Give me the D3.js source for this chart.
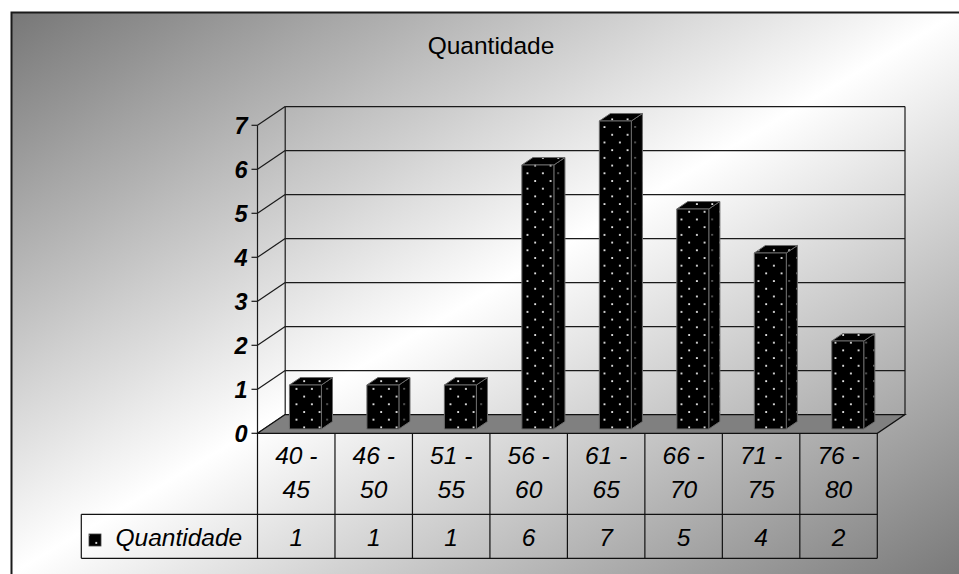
<!DOCTYPE html>
<html>
<head>
<meta charset="utf-8">
<script src="https://cdn.jsdelivr.net/npm/d3@7"></script>
<style>
  html, body { margin: 0; padding: 0; background: #fff; }
  svg { display: block; }
  text { font-family: "Liberation Sans", Arial, sans-serif; }
</style>
</head>
<body>
<svg id="chart" width="959" height="574"></svg>
<script>
// Age ranges and how many fall into each
const categories = ["40 - 45", "46 - 50", "51 - 55", "56 - 60", "61 - 65", "66 - 70", "71 - 75", "76 - 80"];
const values = [1, 1, 1, 6, 7, 5, 4, 2];
const yTicks = [0, 1, 2, 3, 4, 5, 6, 7];
const seriesName = "Quantidade";
const chartTitle = "Quantidade";

const svg = d3.select("#chart");
const defs = svg.append("defs");

// Diagonal dark-light-dark backdrop
const bg = defs.append("linearGradient").attr("id", "bgGrad")
  .attr("x1", 0).attr("y1", 0).attr("x2", 1).attr("y2", 1);
bg.append("stop").attr("offset", 0).attr("stop-color", "#777777");
bg.append("stop").attr("offset", 0.5).attr("stop-color", "#ffffff");
bg.append("stop").attr("offset", 1).attr("stop-color", "#7a7a7a");

// Dotted fill for the columns
function dotPattern(id, dotColor, size) {
  const p = defs.append("pattern").attr("id", id)
    .attr("patternUnits", "userSpaceOnUse")
    .attr("width", 15.4).attr("height", 15.4);
  p.append("rect").attr("width", 15.4).attr("height", 15.4).attr("fill", "#000");
  p.append("rect").attr("x", 3).attr("y", 3).attr("width", size).attr("height", size).attr("fill", dotColor);
  p.append("rect").attr("x", 10.7).attr("y", 10.7).attr("width", size).attr("height", size).attr("fill", dotColor);
}
dotPattern("dots", "#f2f2f2", 1.8);
dotPattern("dotsDim", "#8a8a8a", 1.5);

// Chart area
svg.append("rect").attr("x", 11).attr("y", 12).attr("width", 948).attr("height", 562)
  .attr("fill", "url(#bgGrad)");
svg.append("path").attr("d", "M11.5,574 V12.5 H959")
  .attr("fill", "none").attr("stroke", "#1a1a1a").attr("stroke-width", 2);

// Title
svg.append("text").attr("x", 491).attr("y", 54).attr("text-anchor", "middle")
  .attr("font-size", 24.5).attr("fill", "#000").text(chartTitle);

// Scales: front plane of the 3D box
const x0 = 257.5, x1 = 877.3;
const x = d3.scaleBand().domain(categories).range([x0, x1]).padding(0);
const y = d3.scaleLinear().domain([0, 7]).range([433.3, 125.3]);
const depth = { dx: 27.7, dy: -18.7 };
const bw = x.bandwidth();

// Back wall gridlines
const grid = svg.append("g").attr("stroke", "#1a1a1a").attr("stroke-width", 1.2).attr("fill", "none");
yTicks.forEach(v => {
  grid.append("line")
    .attr("x1", x0 + depth.dx).attr("x2", x1 + depth.dx)
    .attr("y1", y(v) + depth.dy).attr("y2", y(v) + depth.dy);
  // side wall lines
  grid.append("line")
    .attr("x1", x0).attr("y1", y(v))
    .attr("x2", x0 + depth.dx).attr("y2", y(v) + depth.dy);
});
// wall edges
grid.append("line").attr("x1", x0 + depth.dx).attr("x2", x0 + depth.dx)
  .attr("y1", y(7) + depth.dy).attr("y2", y(0) + depth.dy);
grid.append("line").attr("x1", x1 + depth.dx).attr("x2", x1 + depth.dx)
  .attr("y1", y(7) + depth.dy).attr("y2", y(0) + depth.dy);

// Floor
svg.append("path")
  .attr("d", `M${x0},${y(0)} L${x1},${y(0)} L${x1 + depth.dx},${y(0) + depth.dy} L${x0 + depth.dx},${y(0) + depth.dy} Z`)
  .attr("fill", "#808080").attr("stroke", "#111").attr("stroke-width", 1.2);

// Columns
const f0 = 0.23, fd = 0.4;
const barW = bw * 0.413;
const bars = svg.append("g").attr("stroke", "#6a6a6a").attr("stroke-width", 1).attr("stroke-linejoin", "round");
categories.forEach((c, i) => {
  const v = values[i];
  const fx = x(c) + bw * 0.33 + f0 * depth.dx;
  const ox = f0 * depth.dy;
  const yt = y(v) + ox, yb = y(0) + ox;
  const ddx = fd * depth.dx, ddy = fd * depth.dy;
  // side
  bars.append("path")
    .attr("d", `M${fx + barW},${yt} L${fx + barW + ddx},${yt + ddy} L${fx + barW + ddx},${yb + ddy} L${fx + barW},${yb} Z`)
    .attr("fill", "url(#dotsDim)");
  // top
  bars.append("path")
    .attr("d", `M${fx},${yt} L${fx + ddx},${yt + ddy} L${fx + barW + ddx},${yt + ddy} L${fx + barW},${yt} Z`)
    .attr("fill", "url(#dots)");
  // front
  bars.append("rect")
    .attr("x", fx).attr("y", yt).attr("width", barW).attr("height", yb - yt)
    .attr("fill", "url(#dots)");
});

// Value axis
const axisG = svg.append("g").attr("stroke", "#1a1a1a").attr("stroke-width", 1.2);
axisG.append("line").attr("x1", x0).attr("x2", x0).attr("y1", y(7)).attr("y2", y(0));
yTicks.forEach(v => {
  axisG.append("line").attr("x1", x0 - 6).attr("x2", x0).attr("y1", y(v)).attr("y2", y(v));
});
svg.append("g").selectAll("text").data(yTicks).join("text")
  .attr("x", x0 - 10).attr("y", d => y(d) + 8.5)
  .attr("text-anchor", "end")
  .attr("font-size", 23.5).attr("font-weight", "bold").attr("font-style", "italic")
  .attr("fill", "#000")
  .text(d => d);

// Data table
const rowTop = y(0), rowMid = 514.3, rowBot = 558.3, legendLeft = 81.3;
const tbl = svg.append("g").attr("stroke", "#111").attr("stroke-width", 1.2);
tbl.append("line").attr("x1", legendLeft).attr("x2", x1).attr("y1", rowMid).attr("y2", rowMid);
tbl.append("line").attr("x1", legendLeft).attr("x2", x1).attr("y1", rowBot).attr("y2", rowBot);
tbl.append("line").attr("x1", legendLeft).attr("x2", legendLeft).attr("y1", rowMid).attr("y2", rowBot);
categories.concat([null]).forEach((c, i) => {
  const xx = c === null ? x1 : x(c);
  tbl.append("line").attr("x1", xx).attr("x2", xx).attr("y1", rowTop).attr("y2", rowBot);
});

const cat = svg.append("g").attr("font-size", 24.5).attr("font-style", "italic")
  .attr("text-anchor", "middle").attr("fill", "#000");
categories.forEach(c => {
  const parts = c.split(" - ");
  const cx = x(c) + bw / 2;
  cat.append("text").attr("x", cx).attr("y", 464.3).text(parts[0] + " -");
  cat.append("text").attr("x", cx).attr("y", 498.3).text(parts[1]);
});
categories.forEach((c, i) => {
  cat.append("text").attr("x", x(c) + bw / 2).attr("y", 546).text(values[i]);
});

// Legend key and series name
svg.append("rect").attr("x", 89).attr("y", 534).attr("width", 12).attr("height", 12)
  .attr("fill", "url(#dots)").attr("stroke", "#444").attr("stroke-width", 0.8);
svg.append("text").attr("x", 115.5).attr("y", 546)
  .attr("font-size", 24.5).attr("font-style", "italic").attr("fill", "#000")
  .text(seriesName);
</script>
</body>
</html>
